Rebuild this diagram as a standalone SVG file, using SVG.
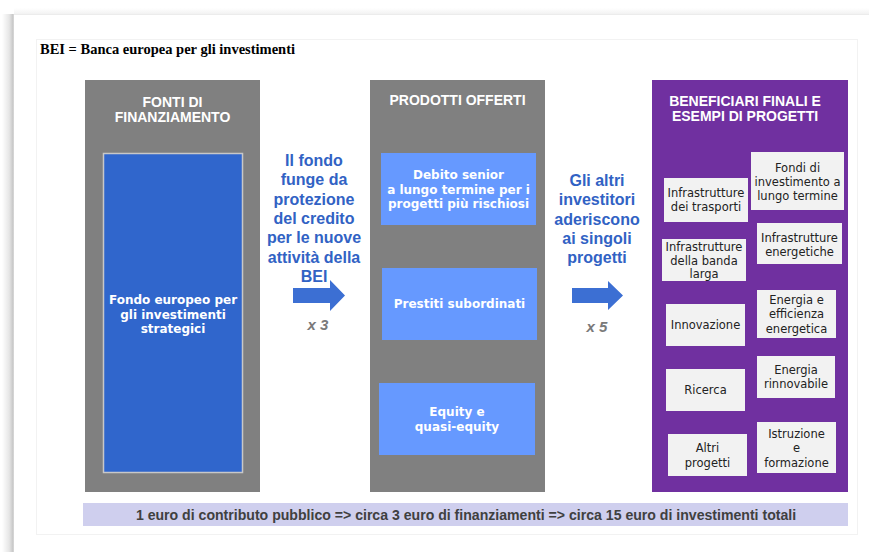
<svg xmlns="http://www.w3.org/2000/svg" width="869" height="552" viewBox="0 0 869 552">
<defs>
<linearGradient id="lshadow" x1="0" y1="0" x2="1" y2="0">
<stop offset="0" stop-color="#ffffff"/>
<stop offset="0.6" stop-color="#e6e6e6"/>
<stop offset="0.9" stop-color="#c8c8c8"/>
<stop offset="1" stop-color="#dcdcdc"/>
</linearGradient>
<linearGradient id="tshadow" x1="0" y1="0" x2="0" y2="1">
<stop offset="0" stop-color="#ffffff"/>
<stop offset="1" stop-color="#f0f0f0"/>
</linearGradient>
<style>
.hdr{font-family:"Liberation Sans",Arial,sans-serif;font-weight:bold;font-size:14px;fill:#ffffff;text-anchor:middle}
.vb{font-family:"DejaVu Sans",Verdana,sans-serif;font-weight:bold;font-size:12px;fill:#ffffff;text-anchor:middle}
.vr{font-family:"DejaVu Sans",Verdana,sans-serif;font-size:11.5px;fill:#222222;text-anchor:middle}
.mid{font-family:"Liberation Sans",Arial,sans-serif;font-weight:bold;font-size:16px;fill:#3162C4;text-anchor:middle}
.mul{font-family:"Liberation Sans",Arial,sans-serif;font-weight:bold;font-style:italic;font-size:15px;fill:#7a7a7a;text-anchor:middle}
.col{fill:#808080}
.prod{fill:#6699FF}
.ben{fill:#F2F2F2}
.arrow{fill:#3C6FD3}
</style>
</defs>
<rect width="869" height="552" fill="#ffffff"/>
<!-- card / shadow -->
<rect x="2" y="14" width="12" height="538" fill="url(#lshadow)"/>
<rect x="14" y="8" width="855" height="7" fill="url(#tshadow)"/>
<line x1="14" y1="14.5" x2="869" y2="14.5" stroke="#ececec" stroke-width="1"/>
<rect x="36.5" y="39.5" width="821" height="495" fill="#ffffff" stroke="#f2f2f2" stroke-width="1"/>

<text x="40" y="54" font-family="'Liberation Serif','Times New Roman',serif" font-weight="bold" font-size="14.5px" fill="#000000">BEI = Banca europea per gli investimenti</text>

<g id="col-fonti">
<rect class="col" x="85" y="80" width="175" height="412"/>
<text class="hdr" x="172.5" y="107">FONTI DI</text>
<text class="hdr" x="172.5" y="122">FINANZIAMENTO</text>
</g>
<g id="fondo">
<rect x="103.5" y="153.5" width="139" height="319" fill="#3066CC" stroke="#c8c8c8" stroke-width="1.5"/>
<text class="vb" x="173" y="304">Fondo europeo per</text>
<text class="vb" x="173" y="318.5">gli investimenti</text>
<text class="vb" x="173" y="333">strategici</text>
</g>

<g id="col-prodotti">
<rect class="col" x="370" y="80" width="175" height="412"/>
<text class="hdr" x="457.5" y="105">PRODOTTI OFFERTI</text>
</g>
<g id="debito">
<rect class="prod" x="381" y="153" width="155" height="72"/>
<text class="vb" x="458.5" y="179">Debito senior</text>
<text class="vb" x="458.5" y="193.5">a lungo termine per i</text>
<text class="vb" x="458.5" y="208">progetti più rischiosi</text>
</g>
<g id="prestiti">
<rect class="prod" x="382" y="268" width="155" height="72"/>
<text class="vb" x="459.5" y="308">Prestiti subordinati</text>
</g>
<g id="equity">
<rect class="prod" x="379" y="383" width="156" height="72"/>
<text class="vb" x="457" y="415.5">Equity e</text>
<text class="vb" x="457" y="430.5">quasi-equity</text>
</g>

<g id="col-beneficiari">
<rect x="652" y="80" width="196" height="412" fill="#7030A0"/>
<text class="hdr" x="745" y="106">BENEFICIARI FINALI E</text>
<text class="hdr" x="745" y="121">ESEMPI DI PROGETTI</text>
</g>
<g id="b-trasporti">
<rect class="ben" x="664" y="178" width="84" height="44"/>
<text class="vr" x="706" y="197">Infrastrutture</text>
<text class="vr" x="706" y="211">dei trasporti</text>
</g>
<g id="b-fondi">
<rect class="ben" x="751" y="152" width="93" height="58"/>
<text class="vr" x="797.5" y="172">Fondi di</text>
<text class="vr" x="797.5" y="186">investimento a</text>
<text class="vr" x="797.5" y="200">lungo termine</text>
</g>
<g id="b-banda">
<rect class="ben" x="662" y="239" width="84" height="42"/>
<text class="vr" x="704" y="251">Infrastrutture</text>
<text class="vr" x="704" y="265">della banda</text>
<text class="vr" x="704" y="278">larga</text>
</g>
<g id="b-energetiche">
<rect class="ben" x="757" y="223" width="85" height="41"/>
<text class="vr" x="799.5" y="242">Infrastrutture</text>
<text class="vr" x="799.5" y="256">energetiche</text>
</g>
<g id="b-innovazione">
<rect class="ben" x="666" y="304" width="79" height="42"/>
<text class="vr" x="705.5" y="329">Innovazione</text>
</g>
<g id="b-efficienza">
<rect class="ben" x="757" y="290" width="79" height="48"/>
<text class="vr" x="796.5" y="304">Energia e</text>
<text class="vr" x="796.5" y="318">efficienza</text>
<text class="vr" x="796.5" y="333">energetica</text>
</g>
<g id="b-ricerca">
<rect class="ben" x="666" y="369" width="79" height="42"/>
<text class="vr" x="705.5" y="394">Ricerca</text>
</g>
<g id="b-rinnovabile">
<rect class="ben" x="757" y="356" width="78" height="42"/>
<text class="vr" x="796" y="374">Energia</text>
<text class="vr" x="796" y="388">rinnovabile</text>
</g>
<g id="b-altri">
<rect class="ben" x="668" y="434" width="79" height="42"/>
<text class="vr" x="707.5" y="452">Altri</text>
<text class="vr" x="707.5" y="467">progetti</text>
</g>
<g id="b-istruzione">
<rect class="ben" x="757" y="422" width="79" height="51"/>
<text class="vr" x="796.5" y="438">Istruzione</text>
<text class="vr" x="796.5" y="452">e</text>
<text class="vr" x="796.5" y="467">formazione</text>
</g>

<g id="testo-fondo">
<text class="mid" x="314" y="166">Il fondo</text>
<text class="mid" x="314" y="185.3">funge da</text>
<text class="mid" x="314" y="204.6">protezione</text>
<text class="mid" x="314" y="223.9">del credito</text>
<text class="mid" x="314" y="243.2">per le nuove</text>
<text class="mid" x="314" y="262.5">attività della</text>
<text class="mid" x="314" y="281.8">BEI</text>
<text class="mul" x="318" y="330">x 3</text>
</g>
<g id="testo-investitori">
<text class="mid" x="597" y="186">Gli altri</text>
<text class="mid" x="597" y="205.3">investitori</text>
<text class="mid" x="597" y="224.6">aderiscono</text>
<text class="mid" x="597" y="243.9">ai singoli</text>
<text class="mid" x="597" y="263.2">progetti</text>
<text class="mul" x="597" y="332">x 5</text>
</g>

<g id="connectors">
<polygon class="arrow" points="293,288 330,288 330,280 345,295.5 330,311 330,303 293,303"/>
<polygon class="arrow" points="572,288 608,288 608,281 623,295.5 608,310 608,303 572,303"/>
</g>

<g id="sintesi">
<rect x="83" y="503" width="765" height="23" fill="#CFCFEE"/>
<text x="466" y="520" font-family="'Liberation Sans',Arial,sans-serif" font-weight="bold" font-size="14.1px" fill="#404040" text-anchor="middle">1 euro di contributo pubblico =&gt; circa 3 euro di finanziamenti =&gt; circa 15 euro di investimenti totali</text>
</g>
</svg>
